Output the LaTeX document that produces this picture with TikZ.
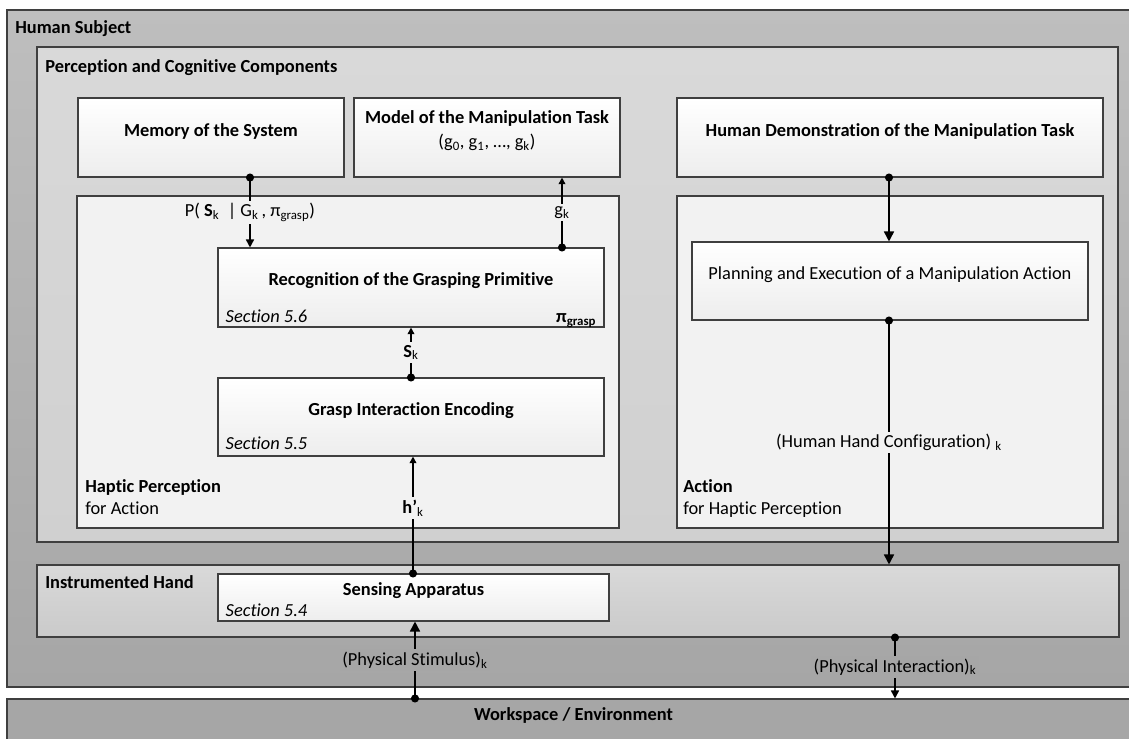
\documentclass[tikz,border=0pt]{standalone}
\usepackage{fontspec}
\setmainfont{Carlito}[Ligatures=NoCommon]
\usetikzlibrary{arrows.meta,fit,positioning}

\definecolor{edge}{HTML}{3F3F3F}
\definecolor{subjtop}{HTML}{BEBEBE}
\definecolor{subjbot}{HTML}{A6A6A6}
\definecolor{cogtop}{HTML}{D9D9D9}
\definecolor{cogbot}{HTML}{D0D0D0}
\definecolor{panel}{HTML}{F2F2F2}
\definecolor{boxbot}{HTML}{EDEDED}
\definecolor{handtop}{HTML}{D9D9D9}
\definecolor{handbot}{HTML}{CACACA}
\definecolor{worldgray}{HTML}{A6A6A6}

\tikzset{
  frame/.style={draw=edge, line width=0.8pt, inner sep=0pt},
  block/.style={frame, top color=white, bottom color=boxbot, align=center,
    font=\fontsize{13.8}{18}\selectfont\bfseries},
  panelbox/.style={frame, fill=panel},
  heading/.style={font=\fontsize{13.8}{16.5}\selectfont\bfseries, inner sep=0pt},
  secnote/.style={font=\fontsize{13.8}{16}\selectfont\itshape, inner sep=0pt},
  tag/.style={font=\fontsize{13.8}{16}\selectfont, inner sep=2pt},
  flow/.style={line width=1.2pt, shorten <=-3pt,
    {Circle[length=6pt]}-{Triangle[length=6pt,width=6pt]}},
  flowbig/.style={flow, {Circle[length=6pt]}-{Triangle[length=7.5pt,width=7.5pt]}},
  flowsmall/.style={flow, {Circle[length=6pt]}-{Triangle[length=5pt,width=5pt]}},
}

\begin{document}
\begin{tikzpicture}[x=0.75pt, y=-0.75pt]
    \useasboundingbox (0,0) rectangle (1129,739);

    % Outer frames
    \node[frame, top color=subjtop, bottom color=subjbot,
      fit={(7,10) (1140,687)}] (subject) {};
    \node[frame, top color=cogtop, bottom color=cogbot,
      fit={(37,47) (1118,542)}] (cognition) {};
    \node[frame, top color=handtop, bottom color=handbot,
      fit={(37,565) (1119,637)}] (hand) {};
    \node[frame, fill=worldgray, font=\fontsize{13.8}{16}\selectfont\bfseries,
      fit={(7,699) (1140,745)}] (world) {Workspace / Environment};

    \node[heading, anchor=base west] (subjecttitle) at (15,33) {Human Subject};
    \node[heading, anchor=base west] (cogtitle) at (45,72)
      {Perception and Cognitive Components};
    \node[heading, anchor=base west] (handtitle) at (45,588) {Instrumented Hand};

    % Top row of blocks
    \node[block, fit={(78,98) (344,177)}] (memory) {Memory of the System};
    \node[block, fit={(354,98) (620,177)}] (model)
      {Model of the Manipulation Task\\
       \mdseries (g\textsubscript{0}, g\textsubscript{1}, …, g\textsubscript{k})};
    \node[block, fit={(677,98) (1103,177)}] (demo)
      {Human Demonstration of the Manipulation Task};

    % Haptic perception and action panels
    \node[panelbox, fit={(77,196) (619,528)}] (haptic) {};
    \node[panelbox, fit={(677,196) (1103,528)}] (action) {};
    \node[heading, anchor=north west, align=left] (haptictitle) at (85,479)
      {Haptic Perception\\\mdseries for Action};
    \node[heading, anchor=north west, align=left] (actiontitle) at (683,479)
      {Action\\\mdseries for Haptic Perception};

    % Inner blocks
    \node[block, fit={(218,248) (604,327)}] (recog)
      {Recognition of the Grasping Primitive};
    \node[block, fit={(218,378) (604,456)}] (encode) {Grasp Interaction Encoding};
    \node[block, fit={(218,574) (609,621)}] (sensing) {Sensing Apparatus};
    \node[block, fit={(692,242) (1088,320)}, font=\fontsize{13.8}{16}\selectfont] (plan)
      {Planning and Execution of a Manipulation Action};

    \node[secnote, anchor=base west] at ([xshift=6pt,yshift=4pt]recog.south west)
      {Section 5.6};
    \node[heading, anchor=base east] at ([xshift=-6pt,yshift=4pt]recog.south east)
      {π\textsubscript{grasp}};
    \node[secnote, anchor=base west] at ([xshift=6pt,yshift=5pt]encode.south west)
      {Section 5.5};
    \node[secnote, anchor=base west] at ([xshift=6pt,yshift=4pt]sensing.south west)
      {Section 5.4};

    % Lanes of the connectors
    \coordinate (lanemem) at (250,0);
    \coordinate (lanegoal) at (562,0);
    \coordinate (lanestate) at (411,0);
    \coordinate (lanehaptic) at (413,0);
    \coordinate (lanestim) at (415,0);
    \coordinate (laneplan) at (889,0);
    \coordinate (lanetouch) at (895,0);

    % Connectors
    \draw[flow] (memory.south -| lanemem) --
      node[tag, fill=panel] {P( \textbf{S}\textsubscript{k}~ | G\textsubscript{k}\,, π\textsubscript{grasp})}
      (recog.north -| lanemem);
    \draw[flowsmall] (recog.north -| lanegoal) --
      node[tag, fill=panel] {g\textsubscript{k}} (model.south -| lanegoal);
    \draw[flowsmall] (encode.north -| lanestate) --
      node[tag, fill=panel] {\textbf{S}\textsubscript{k}} (recog.south -| lanestate);
    \draw[flowsmall] (sensing.north -| lanehaptic) --
      node[tag, fill=panel, pos=0.56] {\textbf{h’}\textsubscript{k}} (encode.south -| lanehaptic);
    \draw[flowbig] (demo.south -| laneplan) -- (plan.north -| laneplan);
    \draw[flowbig] (plan.south -| laneplan) --
      node[tag, fill=panel] {(Human Hand Configuration) \textsubscript{k}} (hand.north -| laneplan);
    \draw[flowbig] (world.north -| lanestim) --
      node[tag, fill=subjbot] {(Physical Stimulus)\textsubscript{k}} (sensing.south -| lanestim);
    \draw[flow] (hand.south -| lanetouch) --
      node[tag, fill=subjbot, pos=0.48] {(Physical Interaction)\textsubscript{k}} (world.north -| lanetouch);
\end{tikzpicture}
\end{document}
